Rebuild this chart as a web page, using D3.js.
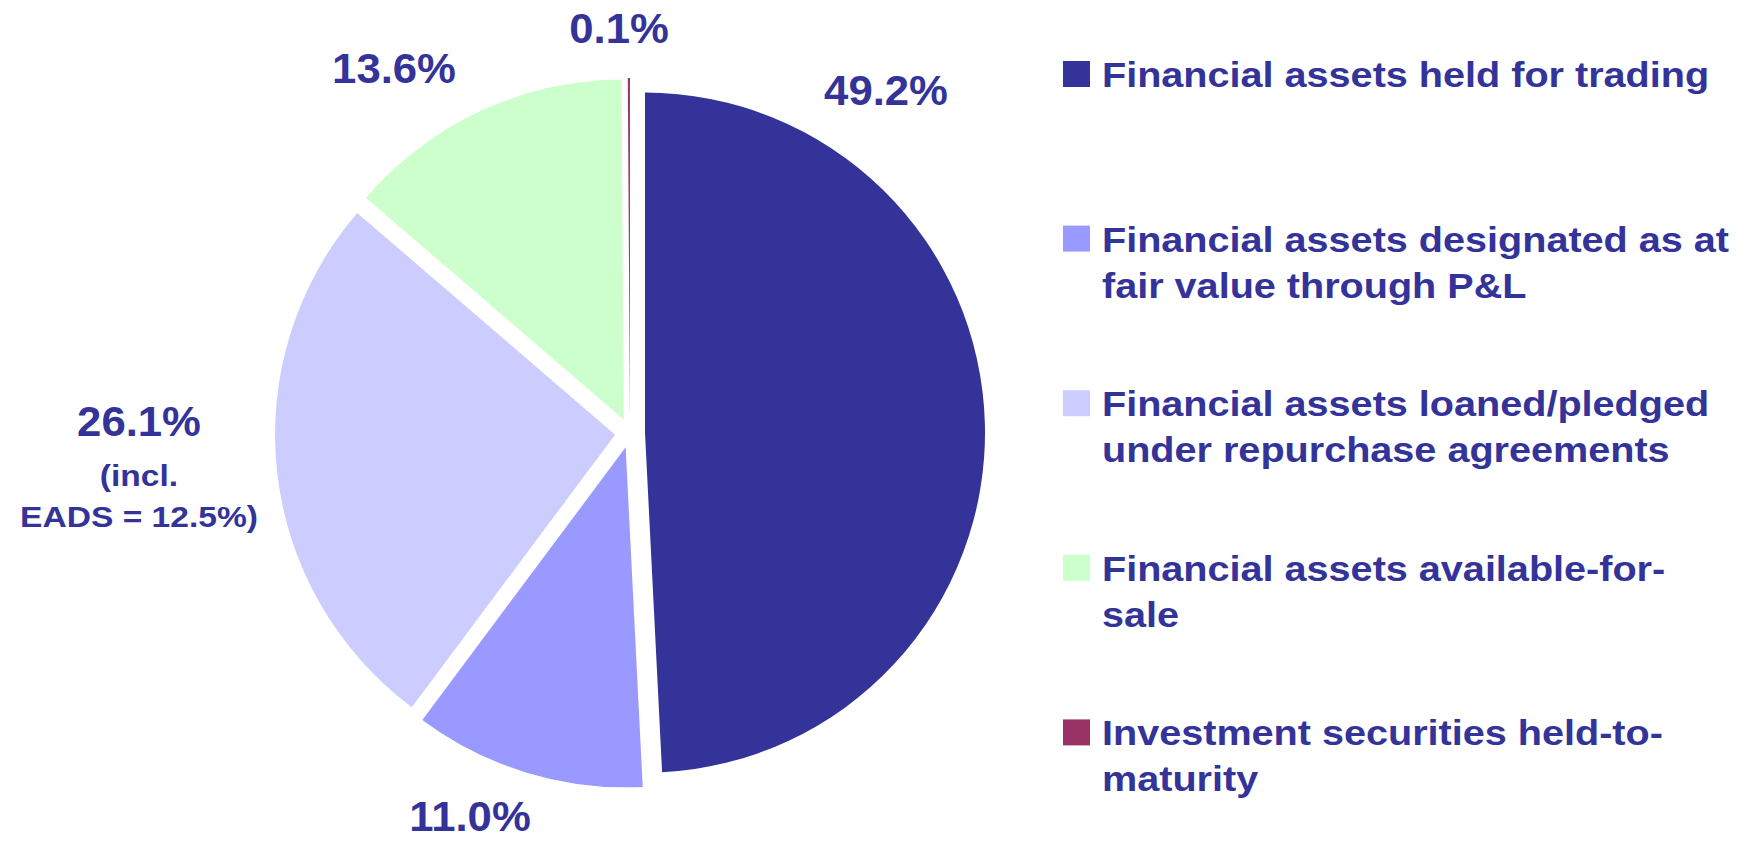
<!DOCTYPE html>
<html>
<head>
<meta charset="utf-8">
<script src="https://cdn.jsdelivr.net/npm/d3@7"></script>
<style>
  html, body { margin: 0; padding: 0; background: #ffffff; }
  svg { display: block; }
</style>
</head>
<body>
<svg id="chart" width="1746" height="841"></svg>
<script>
// ---- data ----
const categories = [
  "Financial assets held for trading",
  "Financial assets designated as at fair value through P&L",
  "Financial assets loaned/pledged under repurchase agreements",
  "Financial assets available-for-sale",
  "Investment securities held-to-maturity"
];
const values = [49.2, 11.0, 26.1, 13.6, 0.1];
const valueLabels = ["49.2%", "11.0%", "26.1%", "13.6%", "0.1%"];
const extraLabelLines = [[], [], ["(incl.", "EADS = 12.5%)"], [], []];
const legendLines = [
  ["Financial assets held for trading"],
  ["Financial assets designated as at", "fair value through P&L"],
  ["Financial assets loaned/pledged", "under repurchase agreements"],
  ["Financial assets available-for-", "sale"],
  ["Investment securities held-to-", "maturity"]
];
const colors = ["#333399", "#9999FF", "#CCCCFF", "#CCFFCC", "#993366"];

// ---- layout ----
const textColor = "#333399";
const cx = 630, cy = 433, radius = 340, explode = 15;
const labelPos = [[886, 105], [470, 831], [139, 436], [394, 83], [619, 43]];
const legendX = 1063, legendTextX = 1102, legendTop = 87, legendStep = 164.6, legendLineH = 46;

const svg = d3.select("#chart");
const color = d3.scaleOrdinal().domain(categories).range(colors);

const pie = d3.pie().sort(null).value(d => d.value);
const arcs = pie(categories.map((c, i) => ({ cat: c, value: values[i], i })));
const arc = d3.arc().innerRadius(0).outerRadius(radius);

const g = svg.append("g").attr("transform", `translate(${cx},${cy})`);
g.selectAll("path.slice")
  .data(arcs)
  .join("path")
  .attr("class", "slice")
  .attr("d", arc)
  .attr("fill", d => color(d.data.cat))
  .attr("transform", d => {
    const a = (d.startAngle + d.endAngle) / 2;
    return `translate(${explode * Math.sin(a)},${-explode * Math.cos(a)})`;
  });

// value labels
const font = "'Liberation Sans', Arial, Helvetica, sans-serif";
arcs.forEach((d, i) => {
  const [x, y] = labelPos[i];
  svg.append("text")
    .attr("transform", `translate(${x},${y}) scale(1.04,1)`)
    .attr("text-anchor", "middle")
    .attr("font-family", font)
    .attr("font-weight", "bold")
    .attr("font-size", 42)
    .attr("fill", textColor)
    .text(valueLabels[i]);
  extraLabelLines[i].forEach((line, j) => {
    svg.append("text")
      .attr("transform", `translate(${x},${y + 50 + j * 41}) scale(1.12,1)`)
      .attr("text-anchor", "middle")
      .attr("font-family", font)
      .attr("font-weight", "bold")
      .attr("font-size", 30)
      .attr("fill", textColor)
      .text(line);
  });
});

// legend
categories.forEach((c, i) => {
  const base = legendTop + i * legendStep;
  svg.append("rect")
    .attr("x", legendX)
    .attr("y", base - 26)
    .attr("width", 27)
    .attr("height", 26)
    .attr("fill", color(c));
  legendLines[i].forEach((line, j) => {
    svg.append("text")
      .attr("transform", `translate(${legendTextX},${base + j * legendLineH}) scale(1.1,1)`)
      .attr("font-family", font)
      .attr("font-weight", "bold")
      .attr("font-size", 36)
      .attr("fill", textColor)
      .text(line);
  });
});
</script>
</body>
</html>
